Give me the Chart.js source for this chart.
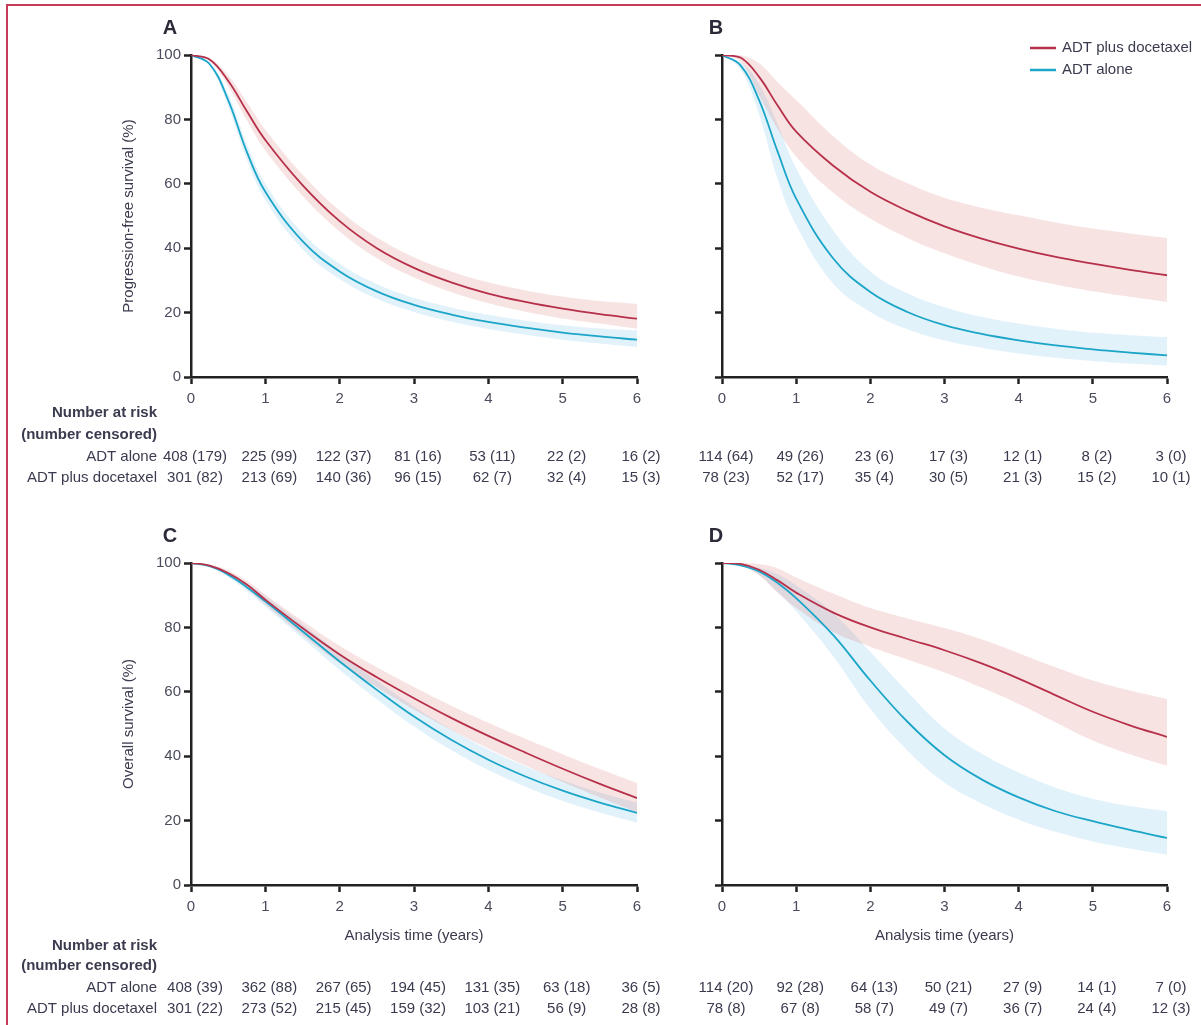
<!DOCTYPE html>
<html>
<head>
<meta charset="utf-8">
<script src="https://cdn.jsdelivr.net/npm/chart.js@4/dist/chart.umd.min.js"></script>
<style>
  html, body { margin: 0; padding: 0; background: #fff; }
  body { width: 1201px; height: 1025px; position: relative; overflow: hidden; }
  .frame { position: absolute; left: 6px; top: 4px; width: 1210px; height: 1040px;
           border-left: 2px solid #c63a5c; border-top: 2px solid #c63a5c; }
  canvas { position: absolute; }
</style>
</head>
<body>
<div class="frame"></div>
<canvas id="chartA" style="left:0;top:0"></canvas>
<canvas id="chartB" style="left:660px;top:0"></canvas>
<canvas id="chartC" style="left:0;top:505px"></canvas>
<canvas id="chartD" style="left:660px;top:505px"></canvas>
<script>
// Survival curves (years, %)
const timeYears = [0, 0.25, 0.5, 0.75, 1, 1.5, 2, 2.5, 3, 3.5, 4, 4.5, 5, 5.5, 6];
const riskYears = [0, 1, 2, 3, 4, 5, 6];
const yTicks = [0, 20, 40, 60, 80, 100];

// Panel A - progression-free survival
const aDoc   = [100, 98.6, 92.0, 82.6, 73.6, 59.6, 48.4, 40.0, 33.9, 29.4, 25.9, 23.3, 21.2, 19.5, 18.1];
const aDocHi = [100, 99.0, 93.7, 85.4, 76.8, 62.9, 51.7, 43.3, 37.2, 32.8, 29.4, 26.9, 25.0, 23.6, 22.7];
const aDocLo = [100, 98.2, 90.3, 79.8, 70.4, 56.3, 45.2, 36.9, 30.9, 26.4, 22.9, 20.3, 18.2, 16.6, 15.0];
const aAdt   = [100, 97.2, 86.0, 70.0, 57.5, 42.2, 32.8, 26.6, 22.4, 19.4, 17.1, 15.3, 13.8, 12.6, 11.6];
const aAdtHi = [100, 97.7, 87.8, 72.4, 60.0, 44.7, 35.2, 28.9, 24.6, 21.6, 19.3, 17.5, 16.1, 15.1, 14.5];
const aAdtLo = [100, 96.7, 84.2, 67.6, 55.0, 39.7, 30.4, 24.3, 20.2, 17.2, 14.9, 13.1, 11.6, 10.4, 9.3];
const aRiskAdt = ["408 (179)", "225 (99)", "122 (37)", "81 (16)", "53 (11)", "22 (2)", "16 (2)"];
const aRiskDoc = ["301 (82)", "213 (69)", "140 (36)", "96 (15)", "62 (7)", "32 (4)", "15 (3)"];

// Panel B - progression-free survival
const bDoc   = [100, 99.2, 93.2, 84.3, 76.2, 65.6, 57.5, 51.6, 46.8, 43.0, 39.9, 37.3, 35.2, 33.3, 31.6];
const bDocHi = [100, 99.9, 97.4, 91.5, 86.0, 74.8, 66.0, 60.2, 55.7, 52.6, 50.2, 48.0, 46.1, 44.6, 43.2];
const bDocLo = [100, 98.0, 87.5, 77.0, 68.5, 57.2, 49.2, 43.2, 38.4, 34.5, 31.2, 28.7, 26.6, 24.9, 23.3];
const bAdt   = [100, 96.8, 86.0, 70.0, 55.4, 36.8, 26.4, 20.2, 16.1, 13.4, 11.4, 9.8, 8.6, 7.6, 6.7];
const bAdtHi = [100, 97.8, 91.0, 78.5, 64.8, 45.5, 32.8, 26.0, 21.7, 18.7, 16.6, 15.0, 13.8, 13.0, 12.4];
const bAdtLo = [100, 95.6, 81.5, 61.5, 47.2, 29.0, 20.2, 14.8, 11.3, 9.1, 7.3, 6.0, 5.0, 4.2, 3.6];
const bRiskAdt = ["114 (64)", "49 (26)", "23 (6)", "17 (3)", "12 (1)", "8 (2)", "3 (0)"];
const bRiskDoc = ["78 (23)", "52 (17)", "35 (4)", "30 (5)", "21 (3)", "15 (2)", "10 (1)"];

// Panel C - overall survival
const cDoc   = [100, 99.2, 96.9, 93.3, 88.6, 79.8, 71.6, 64.5, 58.0, 51.9, 46.3, 41.1, 36.1, 31.4, 27.0];
const cDocHi = [100, 99.5, 97.7, 94.5, 90.2, 82.0, 74.3, 67.6, 61.5, 55.7, 50.4, 45.4, 40.6, 36.0, 31.7];
const cDocLo = [100, 98.9, 96.1, 92.1, 87.0, 77.6, 68.9, 61.4, 54.5, 48.2, 42.4, 37.1, 32.0, 27.2, 22.7];
const cAdt   = [100, 99.0, 96.4, 92.5, 88.1, 78.8, 69.4, 60.6, 52.3, 45.1, 38.9, 33.7, 29.3, 25.6, 22.4];
const cAdtHi = [100, 99.3, 97.2, 93.7, 89.7, 81.0, 72.0, 63.5, 55.4, 48.3, 42.1, 36.9, 32.5, 28.7, 25.5];
const cAdtLo = [100, 98.7, 95.6, 91.3, 86.5, 76.6, 66.8, 57.7, 49.2, 41.9, 35.7, 30.5, 26.1, 22.5, 19.3];
const cRiskAdt = ["408 (39)", "362 (88)", "267 (65)", "194 (45)", "131 (35)", "63 (18)", "36 (5)"];
const cRiskDoc = ["301 (22)", "273 (52)", "215 (45)", "159 (32)", "103 (21)", "56 (9)", "28 (8)"];

// Panel D - overall survival
const dDoc   = [100, 99.7, 97.9, 94.6, 90.8, 84.6, 80.0, 76.4, 72.9, 68.8, 64.1, 58.9, 53.8, 49.6, 46.0];
const dDocHi = [100, 100, 99.7, 98.3, 95.5, 90.5, 86.0, 82.8, 79.8, 76.3, 72.0, 67.6, 63.5, 60.4, 57.8];
const dDocLo = [100, 99.3, 96.2, 90.8, 86.0, 78.6, 74.0, 70.0, 66.0, 61.3, 56.2, 50.5, 44.9, 40.6, 37.0];
const dAdt   = [100, 99.3, 97.4, 93.8, 89.1, 77.6, 63.5, 50.7, 40.3, 32.8, 27.2, 22.9, 19.8, 17.1, 14.6];
const dAdtHi = [100, 99.6, 98.5, 96.5, 93.0, 84.5, 72.4, 60.0, 48.6, 40.8, 34.9, 30.2, 26.8, 24.5, 22.9];
const dAdtLo = [100, 99.0, 96.3, 91.0, 85.0, 71.0, 54.7, 41.8, 31.8, 25.3, 20.3, 16.5, 13.5, 11.3, 9.4];
const dRiskAdt = ["114 (20)", "92 (28)", "64 (13)", "50 (21)", "27 (9)", "14 (1)", "7 (0)"];
const dRiskDoc = ["78 (8)", "67 (8)", "58 (7)", "49 (7)", "36 (7)", "24 (4)", "12 (3)"];

const seriesNames = ["ADT plus docetaxel", "ADT alone"];

const RED = "#b7304a";
const BLUE = "#1ba5c8";
const RED_BAND = "rgba(210, 80, 80, 0.16)";
const BLUE_BAND = "rgba(60, 170, 220, 0.15)";
const AXIS = "#222";
const TEXT = "#3a3b4e";
const FONT = "'Liberation Sans', Arial, sans-serif";

const pts = (vals) => timeYears.map((t, i) => ({ x: t, y: vals[i] }));

// number-at-risk table, panel letter and legend
const panelExtras = {
  id: "panelExtras",
  afterDraw(chart) {
    const o = chart.options.plugins.panelExtras;
    const ctx = chart.ctx;
    const area = chart.chartArea;
    const xs = chart.scales.x;
    ctx.save();

    // panel letter
    ctx.font = "bold 20px " + FONT;
    ctx.fillStyle = "#2b2b3a";
    ctx.textAlign = "center";
    ctx.textBaseline = "middle";
    ctx.fillText(o.letter, area.left + o.letterDx, area.top - 27);

    // risk table
    ctx.font = "15px " + FONT;
    ctx.fillStyle = TEXT;
    if (o.showRowLabels) {
      ctx.textAlign = "right";
      ctx.font = "bold 15px " + FONT;
      ctx.fillText("Number at risk", o.labelX, o.rowY[0]);
      ctx.fillText("(number censored)", o.labelX, o.rowY[1]);
      ctx.font = "15px " + FONT;
      ctx.fillText(seriesNames[1], o.labelX, o.rowY[2]);
      ctx.fillText(seriesNames[0], o.labelX, o.rowY[3]);
    }
    ctx.textAlign = "center";
    riskYears.forEach((yr, i) => {
      const x = xs.getPixelForValue(yr) + 4;
      ctx.fillText(o.riskAdt[i], x, o.rowY[2]);
      ctx.fillText(o.riskDoc[i], x, o.rowY[3]);
    });

    // legend
    if (o.legend) {
      const ds = chart.data.datasets;
      [0, 1].forEach((k) => {
        const y = o.legend.y + k * 22;
        ctx.strokeStyle = ds[k].borderColor;
        ctx.lineWidth = 2.5;
        ctx.beginPath();
        ctx.moveTo(o.legend.x, y);
        ctx.lineTo(o.legend.x + 26, y);
        ctx.stroke();
        ctx.fillStyle = TEXT;
        ctx.textAlign = "left";
        ctx.fillText(ds[k].label, o.legend.x + 32, y);
      });
    }
    ctx.restore();
  },
};

function makePanel(id, cfg) {
  const canvas = document.getElementById(id);
  canvas.width = cfg.width;
  canvas.height = cfg.height;
  canvas.style.width = cfg.width + "px";
  canvas.style.height = cfg.height + "px";

  const lineDs = (label, vals, color) => ({
    label, data: pts(vals), borderColor: color, borderWidth: 1.8,
    pointRadius: 0, fill: false, tension: 0.4, order: 0,
  });
  const bandDs = (label, vals, color, fill) => ({
    label, data: pts(vals), borderWidth: 0, borderColor: "rgba(0,0,0,0)",
    backgroundColor: color, pointRadius: 0, fill, tension: 0.4, order: 1,
  });

  return new Chart(canvas, {
    type: "line",
    data: {
      datasets: [
        lineDs(seriesNames[0], cfg.doc, RED),
        lineDs(seriesNames[1], cfg.adt, BLUE),
        bandDs("doc hi", cfg.docHi, RED_BAND, 3),
        bandDs("doc lo", cfg.docLo, RED_BAND, false),
        bandDs("adt hi", cfg.adtHi, BLUE_BAND, 5),
        bandDs("adt lo", cfg.adtLo, BLUE_BAND, false),
      ],
    },
    options: {
      responsive: false,
      animation: false,
      layout: { padding: cfg.padding },
      elements: { line: { capBezierPoints: true } },
      plugins: {
        legend: { display: false },
        tooltip: { enabled: false },
        panelExtras: cfg.extras,
      },
      scales: {
        x: {
          type: "linear", min: 0, max: 6,
          afterBuildTicks: (s) => { s.ticks = riskYears.map((v) => ({ value: v })); },
          afterFit: (s) => { s.height = cfg.xHeight; },
          border: { color: AXIS, width: 2.5 },
          grid: { drawOnChartArea: false, drawTicks: true, tickLength: 7, tickWidth: 2.5, tickColor: AXIS },
          ticks: { color: "#4a4b5c", font: { family: FONT, size: 15 }, padding: 6, maxRotation: 0 },
          title: {
            display: !!cfg.xTitle, text: cfg.xTitle || "", color: TEXT,
            font: { family: FONT, size: 15 }, padding: { top: 0, bottom: 5 },
          },
        },
        y: {
          type: "linear", min: 0, max: 100,
          afterBuildTicks: (s) => { s.ticks = yTicks.map((v) => ({ value: v })); },
          afterFit: (s) => { s.width = cfg.yWidth; },
          border: { color: AXIS, width: 2.5 },
          grid: { drawOnChartArea: false, drawTicks: true, tickLength: 7, tickWidth: 2.5, tickColor: AXIS },
          ticks: { display: cfg.yLabels, color: "#4a4b5c", font: { family: FONT, size: 15 }, padding: 3 },
          title: {
            display: !!cfg.yTitle, text: cfg.yTitle || "", color: TEXT,
            font: { family: FONT, size: 15 }, padding: { top: 0, bottom: 0 },
          },
        },
      },
    },
    plugins: [panelExtras],
  });
}

// Panel A
makePanel("chartA", {
  width: 670, height: 505, yWidth: 71, xHeight: 30, yLabels: true,
  padding: { left: 120, top: 55, right: 33, bottom: 98 },
  yTitle: "Progression-free survival (%)",
  doc: aDoc, docHi: aDocHi, docLo: aDocLo, adt: aAdt, adtHi: aAdtHi, adtLo: aAdtLo,
  extras: { letter: "A", letterDx: -21, showRowLabels: true, labelX: 157,
            rowY: [413, 435, 457, 478], riskAdt: aRiskAdt, riskDoc: aRiskDoc },
});

// Panel B
makePanel("chartB", {
  width: 541, height: 505, yWidth: 40, xHeight: 30, yLabels: false,
  padding: { left: 22, top: 55, right: 34, bottom: 98 },
  doc: bDoc, docHi: bDocHi, docLo: bDocLo, adt: bAdt, adtHi: bAdtHi, adtLo: bAdtLo,
  extras: { letter: "B", letterDx: -6, showRowLabels: false,
            rowY: [413, 435, 457, 478], riskAdt: bRiskAdt, riskDoc: bRiskDoc,
            legend: { x: 370, y: 48 } },
});

// Panel C
makePanel("chartC", {
  width: 670, height: 520, yWidth: 71, xHeight: 65, yLabels: true,
  padding: { left: 120, top: 58, right: 33, bottom: 75 },
  yTitle: "Overall survival (%)", xTitle: "Analysis time (years)",
  doc: cDoc, docHi: cDocHi, docLo: cDocLo, adt: cAdt, adtHi: cAdtHi, adtLo: cAdtLo,
  extras: { letter: "C", letterDx: -21, showRowLabels: true, labelX: 157,
            rowY: [441, 461, 483, 504], riskAdt: cRiskAdt, riskDoc: cRiskDoc },
});

// Panel D
makePanel("chartD", {
  width: 541, height: 520, yWidth: 40, xHeight: 65, yLabels: false,
  padding: { left: 22, top: 58, right: 34, bottom: 75 },
  xTitle: "Analysis time (years)",
  doc: dDoc, docHi: dDocHi, docLo: dDocLo, adt: dAdt, adtHi: dAdtHi, adtLo: dAdtLo,
  extras: { letter: "D", letterDx: -6, showRowLabels: false,
            rowY: [441, 461, 483, 504], riskAdt: dRiskAdt, riskDoc: dRiskDoc },
});
</script>
</body>
</html>
